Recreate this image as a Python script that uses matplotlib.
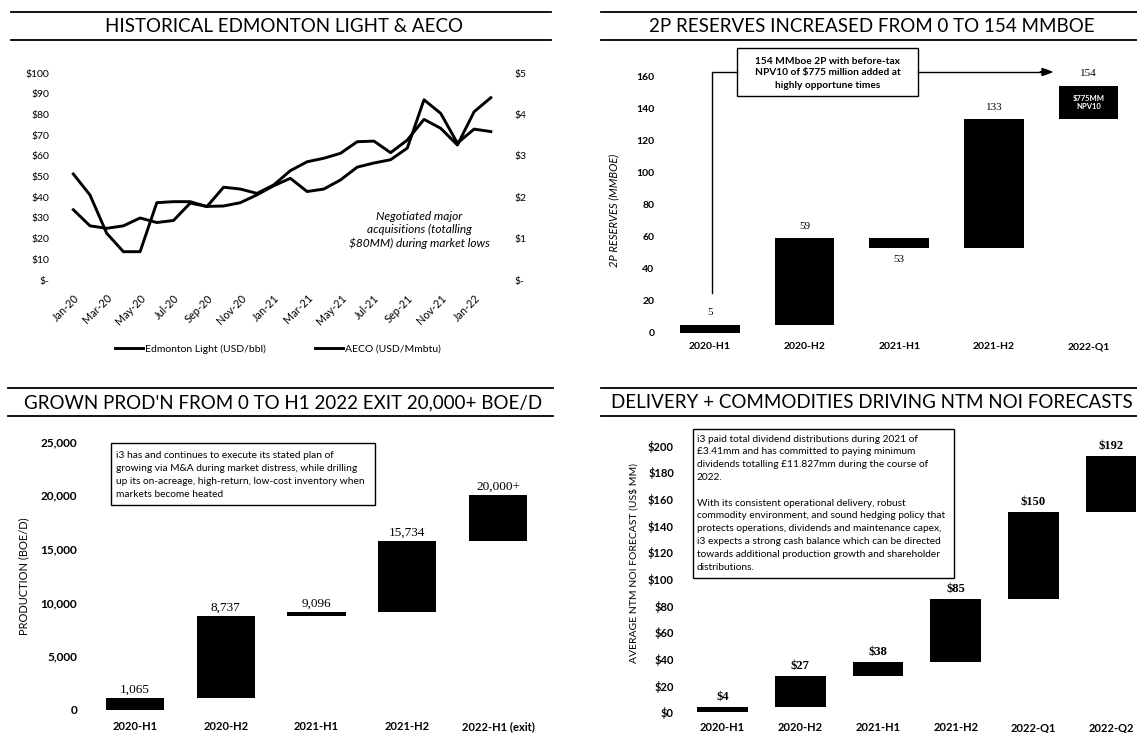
import numpy as np
import matplotlib
matplotlib.use('Agg')
import matplotlib.pyplot as plt
from matplotlib.lines import Line2D
from matplotlib.patches import Rectangle, FancyArrow

plt.rcParams['font.family'] = ['Lato', 'DejaVu Sans']
SERIF = 'Liberation Serif'

# ---- data ----
months = ['Jan-20', 'Feb-20', 'Mar-20', 'Apr-20', 'May-20', 'Jun-20', 'Jul-20', 'Aug-20',
          'Sep-20', 'Oct-20', 'Nov-20', 'Dec-20', 'Jan-21', 'Feb-21', 'Mar-21', 'Apr-21',
          'May-21', 'Jun-21', 'Jul-21', 'Aug-21', 'Sep-21', 'Oct-21', 'Nov-21', 'Dec-21',
          'Jan-22', 'Feb-22']
edmonton_light = [51.3, 41.1, 22.6, 13.7, 13.7, 37.4, 37.9, 37.9, 35.5, 44.9, 44.0, 41.9, 46.0,
                  52.9, 57.2, 58.9, 61.3, 66.9, 67.2, 61.6, 67.7, 77.7, 73.4, 65.3, 81.4, 88.2]
aeco = [1.70, 1.31, 1.25, 1.31, 1.50, 1.39, 1.44, 1.86, 1.78, 1.79, 1.87, 2.06, 2.28,
        2.46, 2.14, 2.20, 2.42, 2.73, 2.83, 2.91, 3.19, 4.36, 4.03, 3.31, 3.65, 3.59]

reserve_periods = ['2020-H1', '2020-H2', '2021-H1', '2021-H2', '2022-Q1']
reserves = [5, 59, 53, 133, 154]

prod_periods = ['2020-H1', '2020-H2', '2021-H1', '2021-H2', '2022-H1 (exit)']
production = [1065, 8737, 9096, 15734, 20000]
prod_labels = ['1,065', '8,737', '9,096', '15,734', '20,000+']

noi_periods = ['2020-H1', '2020-H2', '2021-H1', '2021-H2', '2022-Q1', '2022-Q2']
noi = [4, 27, 38, 85, 150, 192]

# ---- layout helpers (pixel coords, top-left origin) ----
W, H = 1137, 733
fig = plt.figure(figsize=(W / 100, H / 100), dpi=100)
fig.patch.set_facecolor('white')


def pbox(x0, y0, x1, y1):
    return [x0 / W, 1 - y1 / H, (x1 - x0) / W, (y1 - y0) / H]


def ftext(x, y, s, **kw):
    return fig.text(x / W, 1 - y / H, s, **kw)


def hrule(x0, x1, y, lw=1.3):
    fig.add_artist(Line2D([x0 / W, x1 / W], [1 - y / H] * 2, color='black', lw=lw))


def rect(x0, y0, x1, y1, lw=1.0):
    fig.add_artist(Rectangle((x0 / W, 1 - y1 / H), (x1 - x0) / W, (y1 - y0) / H,
                             transform=fig.transFigure, fill=False, ec='black', lw=lw))


def clean(ax):
    for s in ax.spines.values():
        s.set_visible(False)
    ax.tick_params(length=0)


def header(title, x0, x1, ytop, ybot):
    hrule(x0, x1, ytop)
    hrule(x0, x1, ybot)
    ftext((x0 + x1) / 2 + 3, (ytop + ybot) / 2 + 1, title, ha='center', va='center', fontsize=13.5)


def waterfall(ax, vals, width):
    bottoms = [0] + list(vals[:-1])
    heights = np.array(vals) - np.array(bottoms)
    ax.bar(np.arange(len(vals)), heights, bottom=bottoms, width=width, color='black')


# ================= panel 1: prices =================
header('HISTORICAL EDMONTON LIGHT & AECO', 11, 551, 12, 40)
ax1 = fig.add_axes(pbox(73.3, 73.3, 490.8, 280))
x = np.arange(len(months))
l1, = ax1.plot(x, edmonton_light, color='black', lw=2.1, clip_on=False)
ax1.set_xlim(0, len(months) - 1)
ax1.set_ylim(0, 100)
ax1.set_yticks(range(0, 101, 10))
ax1.set_yticklabels(['$-' if v == 0 else f'${v}' for v in range(0, 101, 10)], fontsize=7.5)
ax1.set_xticks(x[::2])
ax1.set_xticklabels(months[::2], rotation=45, ha='right', rotation_mode='anchor', fontsize=7.8)
ax1.tick_params(axis='y', pad=17)
ax1.tick_params(axis='x', pad=9)
clean(ax1)

ax1r = ax1.twinx()
l2, = ax1r.plot(x, aeco, color='black', lw=2.1, clip_on=False)
ax1r.set_ylim(0, 5)
ax1r.set_yticks(range(0, 6))
ax1r.set_yticklabels(['$-' if v == 0 else f'${v}' for v in range(0, 6)], fontsize=7.5)
ax1r.tick_params(axis='y', pad=17)
clean(ax1r)

for i, line in enumerate(['Negotiated major', 'acquisitions (totalling', '$80MM) during market lows']):
    ftext(419, 216 + 13.8 * i, line, ha='center', va='center', fontsize=8.6, style='italic')

fig.legend([l1, l2], ['Edmonton Light (USD/bbl)', 'AECO (USD/Mmbtu)'], loc='center',
           bbox_to_anchor=(278 / W, 1 - 349 / H), ncol=2, frameon=False, fontsize=7.5,
           handlelength=2.6, handletextpad=0.2, columnspacing=4.8)

# ================= panel 2: reserves =================
header('2P RESERVES INCREASED FROM 0 TO 154 MMBOE', 601, 1137, 12, 40)
ax2 = fig.add_axes(pbox(662.7, 332.7 - 180 * 1.604, 1135.8, 332.7))
waterfall(ax2, reserves, 0.63)
ax2.set_xlim(-0.5, len(reserves) - 0.5)
ax2.set_ylim(0, 180)
ax2.set_yticks(range(0, 161, 20))
ax2.set_yticklabels([str(v) for v in range(0, 161, 20)], fontsize=7.5, fontweight='bold')
ax2.set_xticks(range(len(reserves)))
ax2.set_xticklabels(reserve_periods, fontsize=7.5, fontweight='bold')
ax2.tick_params(axis='y', pad=6)
ax2.tick_params(axis='x', pad=7)
clean(ax2)
prev = 0
for i, v in enumerate(reserves):
    off = 7.5 if v >= prev else -7.5
    ax2.text(i, v + off, str(v), ha='center', va='center', fontsize=8, family=SERIF)
    prev = v
last = len(reserves) - 1
ax2.text(last, (reserves[-1] + reserves[-2]) / 2, '$775MM\nNPV10', ha='center', va='center',
         color='white', fontsize=5.5, fontweight='bold', linespacing=1.3)
ftext(614, 210, '2P RESERVES (MMBOE)', rotation=90, ha='center', va='center', fontsize=8,
      style='italic')
# callout box + connector arrow
rect(737, 48, 918, 96)
for i, line in enumerate(['154 MMboe 2P with before-tax', 'NPV10 of $775 million added at',
                          'highly opportune times']):
    ftext(827.5, 61 + 12 * i, line, ha='center', va='center', fontsize=7.3, fontweight='bold')
fig.add_artist(Line2D([712 / W, 712 / W, 737 / W], [1 - 293 / H, 1 - 72 / H, 1 - 72 / H],
                      color='black', lw=1.0))
fig.add_artist(Line2D([918 / W, 1046 / W], [1 - 72 / H] * 2, color='black', lw=1.0))
fig.add_artist(FancyArrow(1040 / W, 1 - 72 / H, 12 / W, 0, width=0.0001, head_width=7 / H,
                          head_length=10 / W, color='black', transform=fig.transFigure,
                          length_includes_head=True))

# ================= panel 3: production =================
header("GROWN PROD'N FROM 0 TO H1 2022 EXIT 20,000+ BOE/D", 8, 553, 388, 416)
ax3 = fig.add_axes(pbox(89.6, 709.7 - 26000 * 53.6 / 5000, 543.4, 709.7))
waterfall(ax3, production, 0.64)
ax3.set_xlim(-0.5, len(production) - 0.5)
ax3.set_ylim(0, 26000)
ax3.set_yticks(range(0, 25001, 5000))
ax3.set_yticklabels([f'{v:,}' for v in range(0, 25001, 5000)], fontsize=8.5, fontweight='bold')
ax3.set_xticks(range(len(production)))
ax3.set_xticklabels(prod_periods, fontsize=8, fontweight='bold')
ax3.tick_params(axis='y', pad=9)
ax3.tick_params(axis='x', pad=8)
clean(ax3)
for i, (v, s) in enumerate(zip(production, prod_labels)):
    ax3.text(i, v + 800, s, ha='center', va='center', fontsize=9.5, family=SERIF)
ftext(24, 576, 'PRODUCTION (BOE/D)', rotation=90, ha='center', va='center', fontsize=8)
rect(111, 443, 375, 505)
for i, line in enumerate(['i3 has and continues to execute its stated plan of',
                          'growing via M&A during market distress, while drilling',
                          'up its on-acreage, high-return, low-cost inventory when',
                          'markets become heated']):
    ftext(116, 455 + 13.1 * i, line, ha='left', va='center', fontsize=7.3)

# ================= panel 4: NOI =================
header('DELIVERY + COMMODITIES DRIVING NTM NOI FORECASTS', 601, 1137, 388, 416)
ax4 = fig.add_axes(pbox(683.8, 712.3 - 205 * 1.333, 1150, 712.3))
waterfall(ax4, noi, 0.65)
ax4.set_xlim(-0.5, len(noi) - 0.5)
ax4.set_ylim(0, 205)
ax4.set_yticks(range(0, 201, 20))
ax4.set_yticklabels([f'${v}' for v in range(0, 201, 20)], fontsize=8, fontweight='bold')
ax4.set_xticks(range(len(noi)))
ax4.set_xticklabels(noi_periods, fontsize=8, fontweight='bold')
ax4.tick_params(axis='y', pad=7)
ax4.tick_params(axis='x', pad=7)
clean(ax4)
for i, v in enumerate(noi):
    ax4.text(i, v + 7.5, f'${v}', ha='center', va='center', fontsize=9, family=SERIF,
             fontweight='bold')
ftext(634, 563, 'AVERAGE NTM NOI FORECAST (US$ MM)', rotation=90, ha='center', va='center',
      fontsize=7.5)
rect(693, 429, 954, 578)
noi_note = ['i3 paid total dividend distributions during 2021 of',
            '£3.41mm and has committed to paying minimum',
            'dividends totalling £11.827mm during the course of',
            '2022.',
            '',
            'With its consistent operational delivery, robust',
            'commodity environment, and sound hedging policy that',
            'protects operations, dividends and maintenance capex,',
            'i3 expects a strong cash balance which can be directed',
            'towards additional production growth and shareholder',
            'distributions.']
for i, line in enumerate(noi_note):
    ftext(697, 439 + 12.8 * i, line, ha='left', va='center', fontsize=7.3)

fig.savefig('out.png', dpi=100)
